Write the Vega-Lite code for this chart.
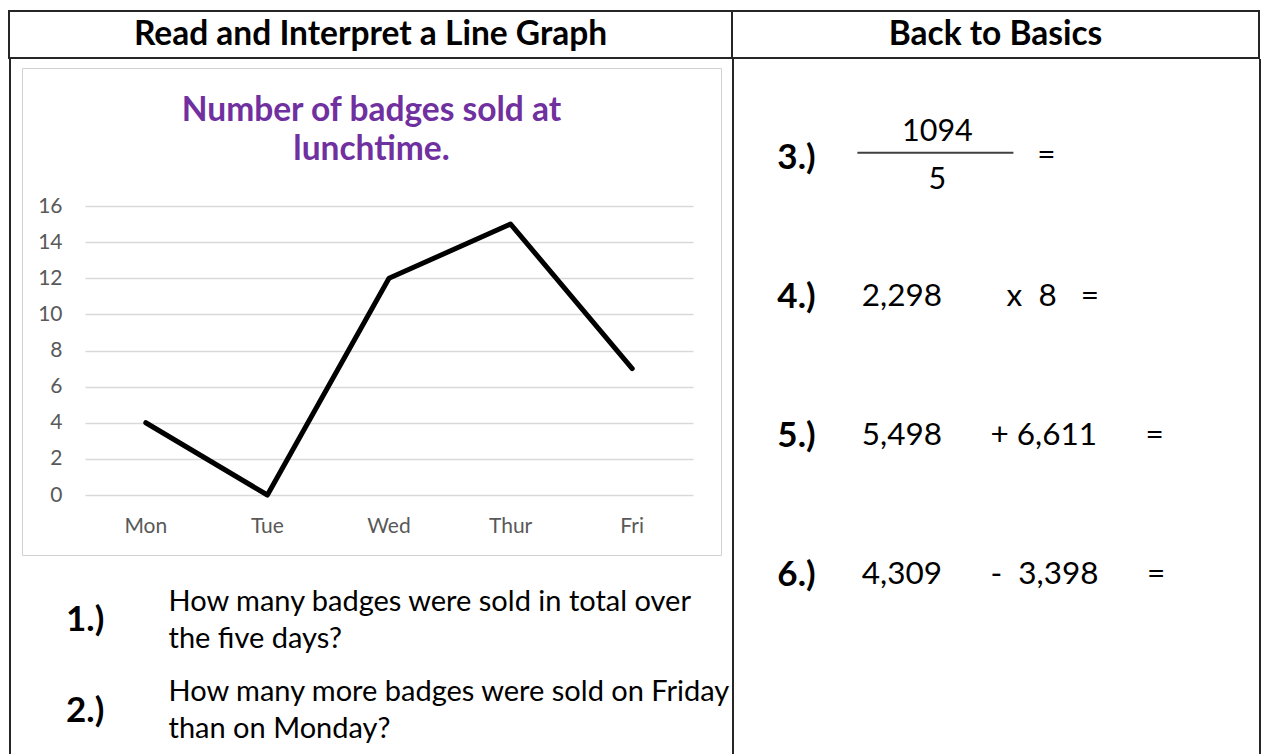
{
  "$schema": "https://vega.github.io/schema/vega-lite/v6.json",
  "padding": {"left": 8, "top": 10, "right": 0, "bottom": 0},
  "background": "white",
  "spacing": 0,
  "config": {
    "view": {"stroke": null},
    "font": "Lato",
    "text": {"font": "Lato", "color": "#000000"}
  },
  "vconcat": [
    {
      "hconcat": [
        {
          "width": 723, "height": 47,
          "view": {"stroke": "#262626", "strokeWidth": 2},
          "data": {"values": [{"h": "Read and Interpret a Line Graph"}]},
          "mark": {"type": "text", "fontSize": 33.5, "fontWeight": "bold", "baseline": "middle"},
          "encoding": {"text": {"field": "h"}}
        },
        {
          "width": 527, "height": 47,
          "view": {"stroke": "#262626", "strokeWidth": 2},
          "data": {"values": [{"h": "Back to Basics"}]},
          "mark": {"type": "text", "fontSize": 33.5, "fontWeight": "bold", "baseline": "middle"},
          "encoding": {"text": {"field": "h"}}
        }
      ],
      "spacing": 0,
      "bounds": "flush"
    },
    {
      "hconcat": [
        {
          "hconcat": [
            {
              "width": 2, "height": 695,
              "view": {"fill": "#262626", "stroke": null},
              "data": {"values": [{}]},
              "mark": {"type": "text", "text": "", "fontSize": 0}
            },
            {
              "hconcat": [
                {
                  "vconcat": [
                    {
                      "width": 699, "height": 1,
                      "view": {"fill": "white", "stroke": null},
                      "data": {"values": [{}]},
                      "mark": {"type": "text", "text": "", "fontSize": 0}
                    },
                    {
                      "width": 699, "height": 487,
                      "view": {"stroke": "#d0d0d0", "strokeWidth": 1},
                      "title": {
                        "text": ["Number of badges sold at", "lunchtime."],
                        "font": "Lato", "fontSize": 33.5, "fontWeight": "bold", "color": "#7030a0",
                        "lineHeight": 38.5, "offset": -99, "anchor": "middle", "frame": "group"
                      },
                      "data": {"values": [
                        {"day": "Mon", "sold": 4},
                        {"day": "Tue", "sold": 0},
                        {"day": "Wed", "sold": 12},
                        {"day": "Thur", "sold": 15},
                        {"day": "Fri", "sold": 7}
                      ]},
                      "mark": {"type": "line", "color": "#000000", "strokeWidth": 5, "strokeJoin": "round", "strokeCap": "round"},
                      "encoding": {
                        "x": {
                          "field": "day", "type": "nominal", "sort": null, "bandPosition": 0.5,
                          "scale": {"type": "band", "range": [63, 671], "paddingInner": 0, "paddingOuter": 0},
                          "axis": {"title": null, "domain": false, "ticks": false, "tickSize": 0, "grid": false, "labelAngle": 0,
                                   "labelPadding": 2, "offset": -42, "labelFont": "Lato", "labelFontSize": 21, "labelColor": "#595959"}
                        },
                        "y": {
                          "field": "sold", "type": "quantitative",
                          "scale": {"domain": [0, 16], "range": [427, 138], "nice": false},
                          "axis": {"title": null, "values": [0, 2, 4, 6, 8, 10, 12, 14, 16], "domain": false, "ticks": false, "tickSize": 0,
                                   "grid": true, "gridColor": "#d9d9d9", "gridWidth": 1.5, "labelPadding": 6, "offset": -46,
                                   "labelFont": "Lato", "labelFontSize": 21, "labelColor": "#595959"}
                        }
                      }
                    },
                    {
                      "width": 709, "height": 191,
                      "view": {"fill": "white", "stroke": null},
                      "data": {"values": [
                        {"q": 1, "num": "1.)", "question": "How many badges were sold in total over\nthe five days?"},
                        {"q": 2, "num": "2.)", "question": "How many more badges were sold on Friday\nthan on Monday?"}
                      ]},
                      "layer": [
                        {
                          "mark": {"type": "text", "fontSize": 35, "fontWeight": "bold", "align": "left", "baseline": "middle"},
                          "encoding": {
                            "x": {"datum": "num", "type": "nominal", "scale": {"type": "point", "domain": ["num", "question", "c3", "c4", "c5", "c6", "c7"], "padding": 0.459, "align": 0.468}, "axis": null},
                            "y": {"field": "q", "type": "ordinal", "scale": {"type": "point", "domain": [1, 2], "padding": 0.555, "align": 0.572}, "axis": null},
                            "text": {"field": "num"}
                          }
                        },
                        {
                          "mark": {"type": "text", "fontSize": 29, "align": "left", "baseline": "middle", "lineBreak": "\n", "lineHeight": 37, "dy": -18.5},
                          "encoding": {
                            "x": {"datum": "question", "type": "nominal", "scale": {"type": "point", "domain": ["num", "question", "c3", "c4", "c5", "c6", "c7"], "padding": 0.459, "align": 0.468}, "axis": null},
                            "y": {"field": "q", "type": "ordinal", "scale": {"type": "point", "domain": [1, 2], "padding": 0.555, "align": 0.572}, "axis": null},
                            "text": {"field": "question"}
                          }
                        }
                      ]
                    }
                  ],
                  "spacing": 8,
                  "bounds": "flush"
                },
                {
                  "width": 2, "height": 695,
                  "view": {"fill": "#262626", "stroke": null},
                  "data": {"values": [{}]},
                  "mark": {"type": "text", "text": "", "fontSize": 0}
                }
              ],
              "spacing": -1.5
            }
          ],
          "spacing": 10
        },
        {
          "width": 525, "height": 695,
          "view": {"fill": "white", "stroke": null},
          "data": {"values": [
            {"p": 3, "label": "3.)", "num": "1094", "den": "5", "eq": "="},
            {"p": 4, "label": "4.)", "expr": "2,298\u00a0\u00a0\u00a0\u00a0\u00a0\u00a0\u00a0\u00a0x\u00a0\u00a08\u00a0\u00a0\u00a0="},
            {"p": 5, "label": "5.)", "expr": "5,498\u00a0\u00a0\u00a0\u00a0\u00a0\u00a0+\u00a06,611\u00a0\u00a0\u00a0\u00a0\u00a0\u00a0="},
            {"p": 6, "label": "6.)", "expr": "4,309\u00a0\u00a0\u00a0\u00a0\u00a0\u00a0-\u00a0\u00a03,398\u00a0\u00a0\u00a0\u00a0\u00a0\u00a0="}
          ]},
          "layer": [
            {
              "mark": {"type": "text", "fontSize": 35, "fontWeight": "bold", "align": "left", "baseline": "middle"},
              "encoding": {
                "x": {"datum": "label", "type": "nominal", "bandPosition": 0, "scale": {"type": "band", "domain": ["label", "fracL", "fracR", "eq", "e1", "e2"], "paddingInner": 0, "paddingOuter": 0.28, "align": 0.967}, "axis": null},
                "y": {"field": "p", "type": "ordinal", "bandPosition": 0.5, "scale": {"type": "band", "domain": [3, 4, 5, 6], "paddingInner": 0, "paddingOuter": 0.5, "align": 0.209}, "axis": null},
                "text": {"field": "label"}
              }
            },
            {
              "transform": [{"filter": "isValid(datum.expr)"}],
              "mark": {"type": "text", "fontSize": 31.5, "align": "left", "baseline": "middle"},
              "encoding": {
                "x": {"datum": "fracL", "type": "nominal", "bandPosition": 0.056, "scale": {"type": "band", "domain": ["label", "fracL", "fracR", "eq", "e1", "e2"], "paddingInner": 0, "paddingOuter": 0.28, "align": 0.967}, "axis": null},
                "y": {"field": "p", "type": "ordinal", "bandPosition": 0.5, "scale": {"type": "band", "domain": [3, 4, 5, 6], "paddingInner": 0, "paddingOuter": 0.5, "align": 0.209}, "axis": null},
                "text": {"field": "expr"}
              }
            },
            {
              "transform": [{"filter": "isValid(datum.num)"}],
              "mark": {"type": "text", "fontSize": 30.5, "align": "center", "baseline": "middle"},
              "encoding": {
                "x": {"datum": "fracR", "type": "nominal", "bandPosition": 0, "scale": {"type": "band", "domain": ["label", "fracL", "fracR", "eq", "e1", "e2"], "paddingInner": 0, "paddingOuter": 0.28, "align": 0.967}, "axis": null},
                "y": {"field": "p", "type": "ordinal", "bandPosition": 0.316, "scale": {"type": "band", "domain": [3, 4, 5, 6], "paddingInner": 0, "paddingOuter": 0.5, "align": 0.209}, "axis": null},
                "text": {"field": "num"}
              }
            },
            {
              "transform": [{"filter": "isValid(datum.den)"}],
              "mark": {"type": "text", "fontSize": 30.5, "align": "center", "baseline": "middle"},
              "encoding": {
                "x": {"datum": "fracR", "type": "nominal", "bandPosition": 0, "scale": {"type": "band", "domain": ["label", "fracL", "fracR", "eq", "e1", "e2"], "paddingInner": 0, "paddingOuter": 0.28, "align": 0.967}, "axis": null},
                "y": {"field": "p", "type": "ordinal", "bandPosition": 0.66, "scale": {"type": "band", "domain": [3, 4, 5, 6], "paddingInner": 0, "paddingOuter": 0.5, "align": 0.209}, "axis": null},
                "text": {"field": "den"}
              }
            },
            {
              "transform": [{"filter": "isValid(datum.eq)"}],
              "mark": {"type": "text", "fontSize": 31.5, "align": "center", "baseline": "middle"},
              "encoding": {
                "x": {"datum": "eq", "type": "nominal", "bandPosition": 0.3625, "scale": {"type": "band", "domain": ["label", "fracL", "fracR", "eq", "e1", "e2"], "paddingInner": 0, "paddingOuter": 0.28, "align": 0.967}, "axis": null},
                "y": {"field": "p", "type": "ordinal", "bandPosition": 0.49, "scale": {"type": "band", "domain": [3, 4, 5, 6], "paddingInner": 0, "paddingOuter": 0.5, "align": 0.209}, "axis": null},
                "text": {"field": "eq"}
              }
            },
            {
              "transform": [{"filter": "isValid(datum.num)"}],
              "mark": {"type": "rule", "color": "#404040", "strokeWidth": 2},
              "encoding": {
                "x": {"datum": "fracL", "type": "nominal", "bandPosition": 0, "scale": {"type": "band", "domain": ["label", "fracL", "fracR", "eq", "e1", "e2"], "paddingInner": 0, "paddingOuter": 0.28, "align": 0.967}, "axis": null},
                "x2": {"datum": "fracR", "bandPosition": 0.95},
                "y": {"field": "p", "type": "ordinal", "bandPosition": 0.465, "scale": {"type": "band", "domain": [3, 4, 5, 6], "paddingInner": 0, "paddingOuter": 0.5, "align": 0.209}, "axis": null}
              }
            }
          ]
        },
        {
          "width": 2, "height": 695,
          "view": {"fill": "#262626", "stroke": null},
          "data": {"values": [{}]},
          "mark": {"type": "text", "text": "", "fontSize": 0}
        }
      ],
      "spacing": 0
    }
  ]
}
